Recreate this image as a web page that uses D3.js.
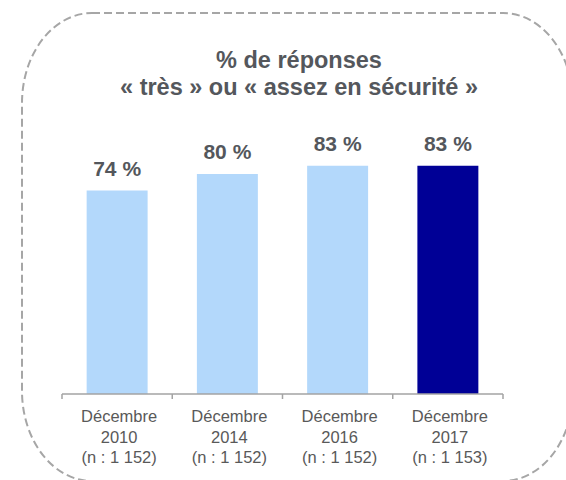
<!DOCTYPE html>
<html>
<head>
<meta charset="utf-8">
<script src="https://cdn.jsdelivr.net/npm/d3@7"></script>
<style>
  html, body { margin: 0; padding: 0; background: #fff; }
  svg { display: block; font-family: "Liberation Sans", Arial, sans-serif; }
</style>
</head>
<body>
<svg id="chart" width="566" height="480"></svg>
<script>
// data
const periods = ["Décembre", "Décembre", "Décembre", "Décembre"];
const years = ["2010", "2014", "2016", "2017"];
const samples = ["(n : 1 152)", "(n : 1 152)", "(n : 1 152)", "(n : 1 153)"];
const values = [74, 80, 83, 83];
const titleLines = ["% de réponses", "« très » ou « assez en sécurité »"];

const lightBlue = "#b3d8fb";
const navy = "#000096";
const textGrey = "#54575c";
const axisGrey = "#a3a3a3";

const svg = d3.select("#chart");

// dashed rounded frame, its right side runs just past the window
svg.append("rect")
  .attr("x", 22)
  .attr("y", 13)
  .attr("width", 551)
  .attr("height", 468)
  .attr("rx", 70)
  .attr("ry", 90)
  .attr("fill", "none")
  .attr("stroke", "#a6a6a6")
  .attr("stroke-width", 2)
  .attr("stroke-dasharray", "8,4");

// title
svg.append("text")
  .attr("text-anchor", "middle")
  .attr("fill", textGrey)
  .attr("font-weight", "bold")
  .attr("font-size", "23.5px")
  .selectAll("tspan")
  .data(titleLines)
  .enter()
  .append("tspan")
  .attr("x", 299)
  .attr("y", (d, i) => 68 + i * 27)
  .text((d) => d);

const keys = years.map((y, i) => i);

// step of 110.25 px, bars 61 px wide
const x = d3.scaleBand()
  .domain(keys)
  .range([62, 503])
  .paddingInner(0.447)
  .paddingOuter(0.2235);

const y = d3.scaleLinear()
  .domain([0, 100])
  .range([394, 119]);

// bars
svg.selectAll(".bar")
  .data(values)
  .enter()
  .append("rect")
  .attr("class", "bar")
  .attr("x", (d, i) => x(i))
  .attr("y", (d) => y(d))
  .attr("width", x.bandwidth())
  .attr("height", (d) => y(0) - y(d))
  .attr("fill", (d, i) => (i === values.length - 1 ? navy : lightBlue));

// value labels
svg.selectAll(".value")
  .data(values)
  .enter()
  .append("text")
  .attr("class", "value")
  .attr("x", (d, i) => x(i) + x.bandwidth() / 2)
  .attr("y", (d) => y(d) - 15)
  .attr("text-anchor", "middle")
  .attr("fill", textGrey)
  .attr("font-weight", "bold")
  .attr("font-size", "21px")
  .text((d) => d + " %");

// axis line with ticks on the band edges
const step = x.step();
const edges = keys.map((k) => x(k) - (step - x.bandwidth()) / 2);
edges.push(edges[edges.length - 1] + step);

svg.append("line")
  .attr("x1", edges[0])
  .attr("x2", edges[edges.length - 1])
  .attr("y1", y(0))
  .attr("y2", y(0))
  .attr("stroke", axisGrey)
  .attr("stroke-width", 1.5);

svg.selectAll(".tick")
  .data(edges)
  .enter()
  .append("line")
  .attr("class", "tick")
  .attr("x1", (d) => d)
  .attr("x2", (d) => d)
  .attr("y1", y(0))
  .attr("y2", y(0) + 5)
  .attr("stroke", axisGrey)
  .attr("stroke-width", 1.5);

// category labels, three lines each
const cat = svg.selectAll(".cat")
  .data(keys)
  .enter()
  .append("text")
  .attr("class", "cat")
  .attr("text-anchor", "middle")
  .attr("fill", "#595959")
  .attr("font-size", "16.5px");

cat.each(function (i) {
  const lines = [periods[i], years[i], samples[i]];
  d3.select(this)
    .selectAll("tspan")
    .data(lines)
    .enter()
    .append("tspan")
    .attr("x", x(i) + x.bandwidth() / 2 + 2)
    .attr("y", (d, j) => 422 + j * 20.5)
    .text((d) => d);
});
</script>
</body>
</html>
